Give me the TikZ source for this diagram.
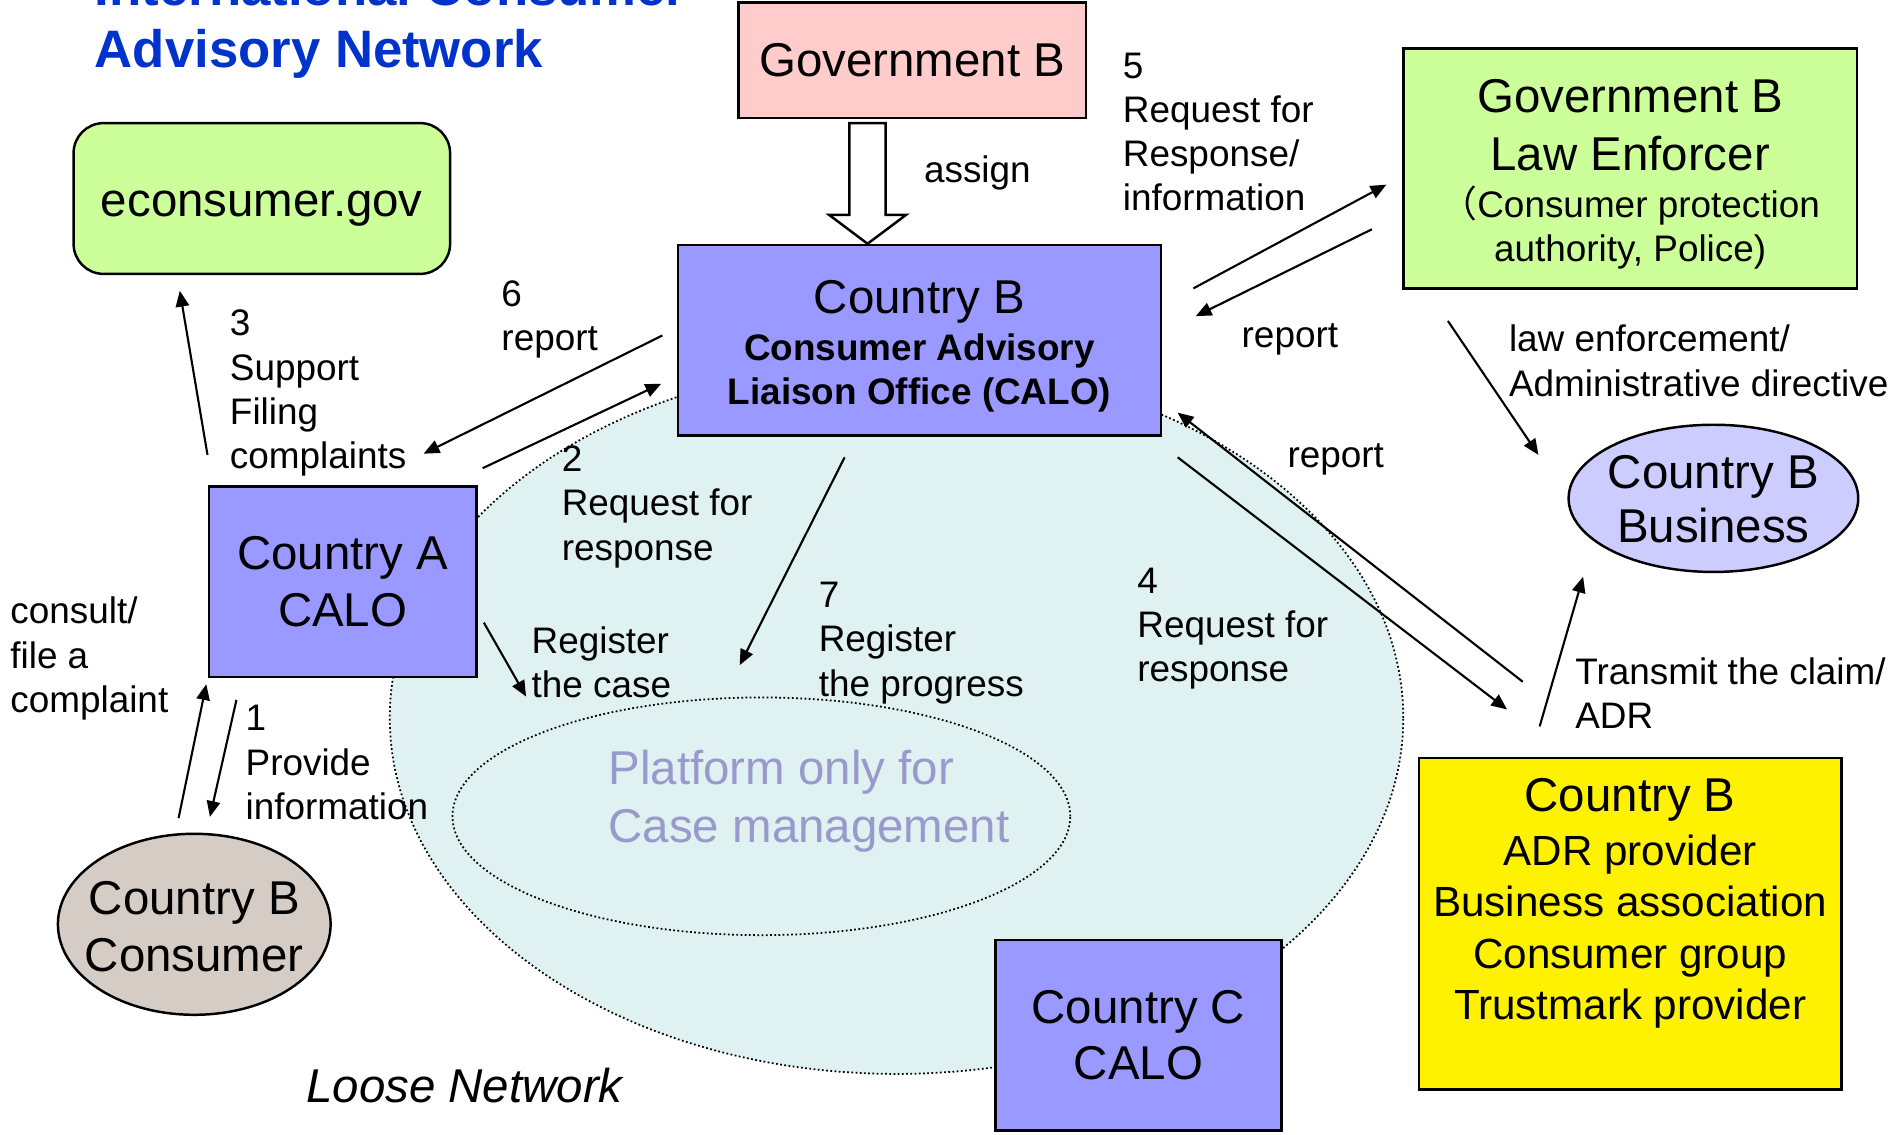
\documentclass[tikz,border=0pt]{standalone}
\usepackage{fontspec}
\setmainfont{Liberation Sans}
\newfontfamily\cjkfont{Noto Sans CJK SC}
\usetikzlibrary{shapes.geometric,arrows.meta,calc}

\definecolor{calofill}{HTML}{9999FF}
\definecolor{greenfill}{HTML}{CCFF99}
\definecolor{pinkfill}{HTML}{FFCCCC}
\definecolor{bizfill}{HTML}{CCCCFF}
\definecolor{consfill}{HTML}{D6CCC6}
\definecolor{netfill}{HTML}{DFF1F1}
\definecolor{platcol}{HTML}{9999CC}
\definecolor{titleblue}{HTML}{0033CC}

\begin{document}
\begin{tikzpicture}[x=0.12066mm,y=-0.12066mm,
    bigtxt/.style={font=\fontsize{13.5}{16.1}\selectfont},
    smalltxt/.style={font=\fontsize{10.5}{12.6}\selectfont},
    box/.style={draw,rectangle,line width=0.7pt,align=center,inner sep=0pt},
    calobox/.style={box,fill=calofill},
    oval/.style={draw,ellipse,line width=0.7pt,inner sep=0pt},
    txt/.style={align=center,inner sep=0pt},
    lbl/.style={smalltxt,align=left,anchor=west,inner sep=0pt,yshift=-1pt},
    arr/.style={line width=0.6pt,-{Triangle[length=4.5pt,width=3.8pt]}},
    dotline/.style={line width=0.5pt,dash pattern=on 0.5pt off 0.7pt}]
        \useasboundingbox (0,0) rectangle (1568,940);

        % 背景：松散网络
        \node[ellipse,draw,dotline,fill=netfill,minimum width=101.35mm,minimum height=71.19mm,inner sep=0pt] (net) at (743,595) {};
        \node[ellipse,draw,dotline,fill=netfill,minimum width=61.78mm,minimum height=23.77mm,inner sep=0pt] (plat) at (631,676.5) {};
        \node[align=left,text=platcol,font=\fontsize{13.5}{16.4}\selectfont,inner sep=0pt] (plattxt) at (670.5,664) {Platform only for\\Case management};
        \node[font=\fontsize{13.5}{16}\selectfont\itshape,inner sep=0pt] (loose) at (385,900) {Loose Network};

        % 标题
        \node[anchor=west,align=left,text=titleblue,font=\fontsize{15}{17.8}\bfseries,inner sep=0pt] (title) at (78,19) {International Consumer\\Advisory Network};

        % 各个机构
        \node[box,fill=greenfill,rounded corners=3mm,minimum width=37.65mm,minimum height=15.08mm,bigtxt,text height=10pt,text depth=0pt] (econ) at (217,164.5) {econsumer.gov};
        \node[box,fill=pinkfill,minimum width=34.75mm,minimum height=11.58mm,bigtxt] (govb) at (756,50) {Government B};
        \node[calobox,minimum width=48.26mm,minimum height=19.06mm] (calob) at (762,282) {};
        \node[txt,smalltxt] (calobtxt) at (762,287) {{\fontsize{13.5}{16}\selectfont Country B}\\[0.7pt]\textbf{Consumer Advisory}\\\textbf{Liaison Office (CALO)}};
        \node[box,fill=greenfill,minimum width=45.37mm,minimum height=24.01mm] (lawb) at (1351,139.5) {};
        \node[txt,smalltxt] (lawbtxt) at (1351,144.5) {{\fontsize{13.5}{16}\selectfont Government B}\\[3.8pt]{\fontsize{13.5}{16}\selectfont Law Enforcer}\\[0.8pt]{\cjkfont （}Consumer protection\hspace*{7pt}\\authority, Police)};
        \node[oval,fill=bizfill,minimum width=28.96mm,minimum height=14.72mm] (busb) at (1420,413) {};
        \node[txt,bigtxt] (busbtxt) at (1420,414) {Country B\\[-0.7pt]Business};
        \node[calobox,minimum width=26.79mm,minimum height=19.06mm,bigtxt] (caloa) at (284,482) {Country A\\CALO};
        \node[oval,fill=consfill,minimum width=27.27mm,minimum height=18.10mm] (consb) at (161,766) {};
        \node[txt,bigtxt] (consbtxt) at (161,768) {Country B\\Consumer};
        \node[calobox,minimum width=28.6mm,minimum height=19.06mm,bigtxt] (caloc) at (943.5,858) {Country C\\CALO};
        \node[box,fill=yellow,minimum width=42.23mm,minimum height=33.18mm] (adrb) at (1351,765.5) {};
        \node[txt,font=\fontsize{12}{14.6}\selectfont] (adrtxt) at (1351,748.5) {{\fontsize{13.5}{16}\selectfont Country B}\\[0.8pt]ADR provider\\Business association\\Consumer group\\Trustmark provider};

        % 指派箭头
        \coordinate (assigntip) at ($(calob.north)+(-43,0)$);
        \draw[line width=0.7pt,fill=white] (assigntip) -- ++(-32,-24) -- ++(17,0) -- ++(0,-76) -- ++(30,0) -- ++(0,76) -- ++(17,0) -- cycle;
        \node[smalltxt,inner sep=0pt] (lblassign) at (810,143) {assign};

        % 连接线
        \draw[arr] ($(consb.north)+(-13,-12)$) -- ($(caloa.south west)+(-1,5)$);
        \draw[arr] ($(caloa.south west)+(24,18)$) -- ($(consb.north)+(13,-13)$);
        \draw[arr] ($(caloa.north west)+(0,-25)$) -- ($(econ.south)+(-68,13)$);
        \draw[arr] ($(calob.west)+(-12,-4)$) -- ($(caloa.north east)+(-45,-26)$);
        \draw[arr] ($(caloa.north east)+(4,-14)$) -- ($(calob.south west)+(-13,-44)$);
        \draw[arr] ($(caloa.east)+(5,34)$) -- ($(plat.north)+(-195,0)$);
        \draw[arr] ($(calob.south)+(-62,17)$) -- ($(plat.north)+(-18,-26)$);
        \draw[arr] ($(calob.south east)+(13,17)$) -- ($(adrb.north west)+(74,-39)$);
        \draw[arr] ($(adrb.north west)+(87,-62)$) -- ($(calob.south east)+(13,-20)$);
        \draw[arr] ($(adrb.north west)+(101,-25)$) -- ($(busb.south)+(-108,3)$);
        \draw[arr] ($(lawb.south west)+(38,26)$) -- ($(busb.west)+(-24,-36)$);
        \draw[arr] ($(calob.north east)+(26,37)$) -- ($(lawb.west)+(-13,13.5)$);
        \draw[arr] ($(lawb.west)+(-25,50.5)$) -- ($(calob.north east)+(28,60)$);

        % 标签
        \node[lbl] (lblconsult) at (8,543) {consult/\\file a\\complaint};
        \node[lbl] (lblone) at (203,629) {1\\Provide\\information};
        \node[lbl] (lblthree) at (190,323) {3\\Support\\Filing\\complaints};
        \node[lbl] (lblsix) at (415,262) {6\\report};
        \node[lbl] (lbltwo) at (465,417) {2\\Request for\\response};
        \node[lbl] (lblcase) at (440,546) {Register\\the case};
        \node[lbl] (lblseven) at (678,530) {7\\Register\\the progress};
        \node[lbl] (lblfour) at (942,518) {4\\Request for\\response};
        \node[lbl] (lblfive) at (930,106.5) {5\\Request for\\Response/\\information};
        \node[smalltxt,inner sep=0pt] (lblrepup) at (1069,281) {report};
        \node[smalltxt,inner sep=0pt] (lblrepdown) at (1107,381) {report};
        \node[lbl] (lbllaw) at (1250,296) {law enforcement/\\Administrative directive};
        \node[lbl] (lbltransmit) at (1305,571.5) {Transmit the claim/\\ADR};
    \end{tikzpicture}
\end{document}
